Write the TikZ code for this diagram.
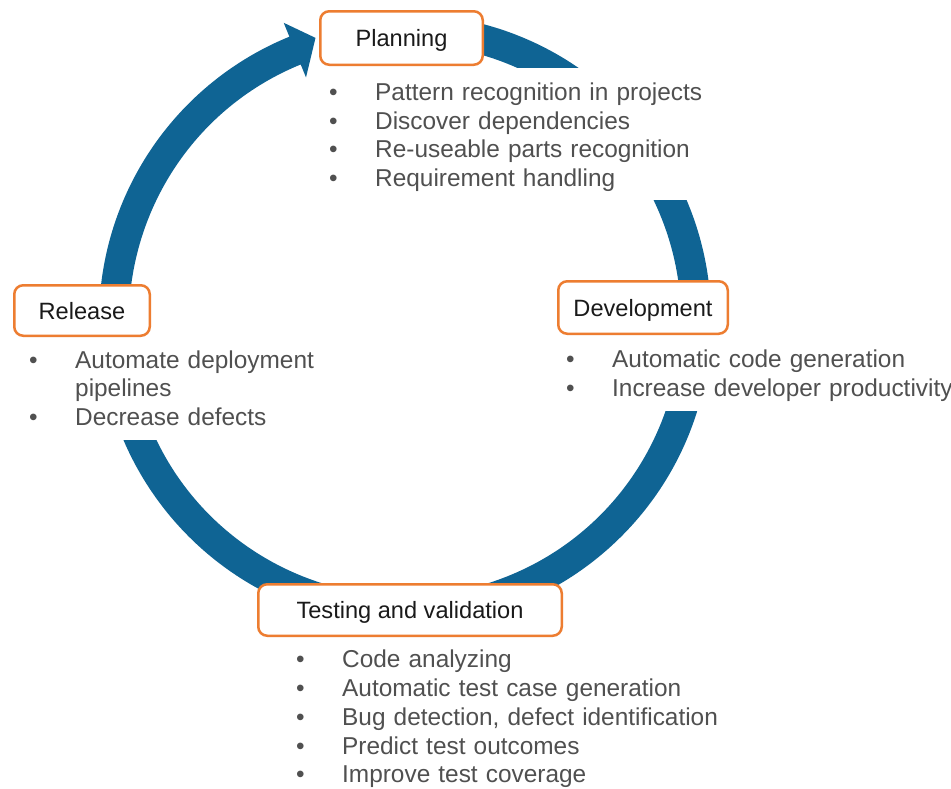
\documentclass[tikz,border=0pt]{standalone}
\usepackage{fontspec}
\setmainfont{Liberation Sans}

\definecolor{ringblue}{HTML}{0F6494}
\definecolor{boxorange}{HTML}{ED7D31}
\definecolor{headtext}{HTML}{1A1A1A}
\definecolor{bodytext}{HTML}{505050}

% bullet followed by a fixed indent for the item text
\newcommand\itm{\makebox[53pt][l]{\hspace{6.8pt}\textbullet}}
% extra room above the first line of a list
\newcommand\toproom{\rule{0pt}{24pt}}

\begin{document}
\begin{tikzpicture}[x=1pt,y=-1pt,
  stage/.style={draw=boxorange, line width=2.5pt, fill=white,
    rounded corners=9pt, inner sep=0pt, text height=17pt, text depth=0pt,
    font=\fontsize{23.6}{28}\selectfont, text=headtext},
  blist/.style={fill=white, inner sep=0pt, align=left, anchor=west,
    font=\fontsize{24.4}{28.7}\selectfont, text=bodytext}]

\useasboundingbox (0,0) rectangle (951,788);
\fill[white] (0,0) rectangle (951,788);

% circular arrow running clockwise, head pointing into the Planning box
\begin{scope}[shift={(405,320)}]
  \fill[ringblue] (-85:306) arc[start angle=-85, end angle=247.8, radius=306]
    -- (247.8:321) -- (252.4:296) -- (247.8:262) -- (247.8:276)
    arc[start angle=247.8, end angle=-85, radius=276] -- cycle;
\end{scope}

% bullet lists (white text boxes)
\node[blist, text width=390pt, minimum height=132pt] (planlist) at (322,134)
  {\toproom\itm Pattern recognition in projects\\
   \itm Discover dependencies\\
   \itm Re-useable parts recognition\\
   \itm Requirement handling};

\node[blist, text width=298pt, minimum height=104pt] (rellist) at (22,388)
  {\itm Automate deployment\\
   \hspace*{53pt}pipelines\\
   \itm Decrease defects};

\node[blist, text width=400pt, minimum height=77pt] (devlist) at (559,372.5)
  {\toproom\itm Automatic code generation\\
   \itm Increase developer productivity};

\node[blist, text width=460pt, minimum height=144pt] (testlist) at (289,719)
  {\itm Code analyzing\\
   \itm Automatic test case generation\\
   \itm Bug detection, defect identification\\
   \itm Predict test outcomes\\
   \itm Improve test coverage};

% stage boxes
\node[stage, minimum width=162.5pt, minimum height=53.5pt] (plan) at (401.5,38) {Planning};
\node[stage, minimum width=135.5pt, minimum height=50.5pt] (rel) at (82,310.5) {Release};
\node[stage, minimum width=169.5pt, minimum height=52.5pt] (dev) at (643,307.5) {Development};
\node[stage, minimum width=303.5pt, minimum height=51.5pt] (test) at (410,610) {Testing and validation};

\end{tikzpicture}
\end{document}
